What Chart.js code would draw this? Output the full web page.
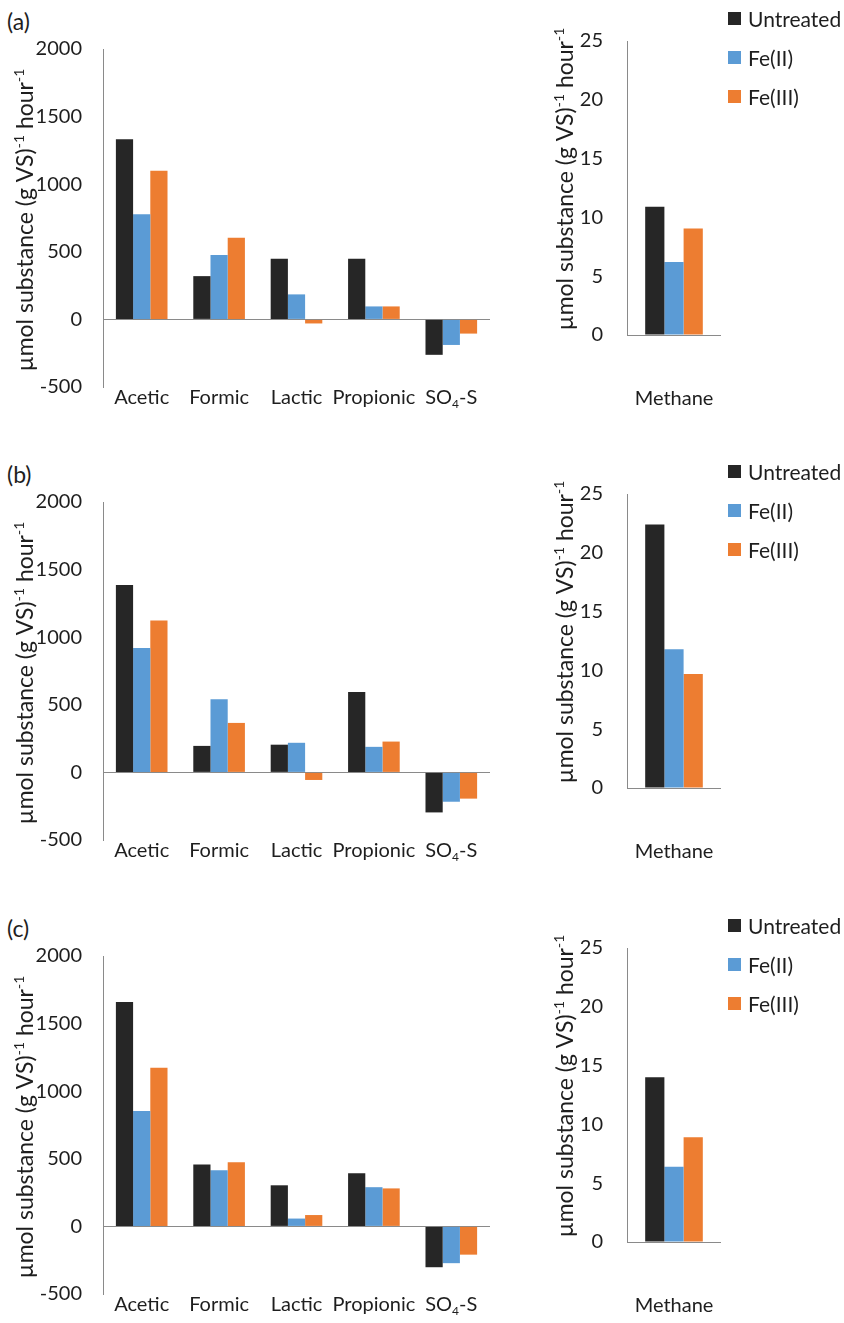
<!DOCTYPE html>
<html>
<head>
<meta charset="utf-8">
<script src="https://cdn.jsdelivr.net/npm/chart.js@4.4.1/dist/chart.umd.min.js"></script>
<style>
  body { margin: 0; background: #fff; overflow: hidden; }
  #page { position: relative; width: 844px; height: 1323px; font-family: Lato, "Open Sans", sans-serif; color: #1e1e1e; }
  canvas { position: absolute; }
  .tag { position: absolute; left: 7px; font-size: 23px; line-height: 26px; }
  .legend { position: absolute; left: 728px; list-style: none; margin: 0; padding: 0; }
  .legend li { display: flex; align-items: center; height: 39px; font-size: 21px; }
  .legend .box { width: 13px; height: 13px; margin-right: 7px; }
</style>
</head>
<body>
<div id="page"></div>
<script>
const FONT = 'Lato, "Open Sans", sans-serif';
const TEXT = '#1e1e1e';
const AXIS = '#8a8a8a';

const categories = ['Acetic', 'Formic', 'Lactic', 'Propionic', 'SO_{4}-S'];
const methaneLabel = ['Methane'];
const seriesNames = ['Untreated', 'Fe(II)', 'Fe(III)'];
const seriesColors = ['#262626', '#5b9bd5', '#ed7d31'];
const panelTags = ['(a)', '(b)', '(c)'];
const yTitle = 'µmol substance (g VS)^{-1} hour^{-1}';
const acidTicks = [-500, 0, 500, 1000, 1500, 2000];
const methaneTicks = [0, 5, 10, 15, 20, 25];

// (a)
const untreatedA = [1333, 320, 449, 449, -262];
const fe2A = [777, 477, 185, 96, -189];
const fe3A = [1100, 604, -30, 96, -105];
const methaneA = [10.9, 6.2, 9.05];
// (b)
const untreatedB = [1387, 196, 205, 594, -296];
const fe2B = [920, 541, 219, 189, -217];
const fe3B = [1123, 366, -56, 228, -194];
const methaneB = [22.4, 11.8, 9.7];
// (c)
const untreatedC = [1660, 458, 304, 393, -302];
const fe2C = [853, 416, 58, 290, -272];
const fe3C = [1174, 474, 84, 281, -209];
const methaneC = [14.0, 6.4, 8.9];

const panelOffsets = [0, 453, 907];

// split "a_{4}b^{-1}" into normal / sub / sup pieces
function parseRich(str) {
  const parts = [];
  const re = /([_^])\{([^}]*)\}/g;
  let last = 0, m;
  while ((m = re.exec(str))) {
    if (m.index > last) parts.push({ t: str.slice(last, m.index), k: 'n' });
    parts.push({ t: m[2], k: m[1] === '_' ? 'sub' : 'sup' });
    last = re.lastIndex;
  }
  if (last < str.length) parts.push({ t: str.slice(last), k: 'n' });
  return parts;
}

function drawRich(ctx, str, x, y, size) {
  const parts = parseRich(str);
  const small = Math.round(size * 0.62);
  const fontFor = k => (k === 'n' ? size : small) + 'px ' + FONT;
  let total = 0;
  parts.forEach(p => { ctx.font = fontFor(p.k); p.w = ctx.measureText(p.t).width; total += p.w; });
  let cx = x - total / 2;
  ctx.textAlign = 'left';
  ctx.textBaseline = 'alphabetic';
  parts.forEach(p => {
    ctx.font = fontFor(p.k);
    const dy = p.k === 'sup' ? -size * 0.4 : p.k === 'sub' ? size * 0.22 : 0;
    ctx.fillText(p.t, cx, y + dy);
    cx += p.w;
  });
}

// category labels sit inside the plot near the bottom, plus the rotated axis title
const richText = {
  id: 'richText',
  afterDraw(chart, args, opts) {
    const { ctx } = chart;
    const x = chart.scales.x;
    ctx.save();
    ctx.fillStyle = TEXT;
    chart.data.labels.forEach((lab, i) => {
      drawRich(ctx, lab, x.getPixelForValue(i), opts.labelY, opts.size);
    });
    ctx.translate(opts.titleX, opts.titleY);
    ctx.rotate(-Math.PI / 2);
    drawRich(ctx, yTitle, 0, 0, opts.titleSize);
    ctx.restore();
  }
};

function makeChart(canvas, labels, series, ticks, g) {
  return new Chart(canvas, {
    type: 'bar',
    data: {
      labels: labels,
      datasets: series.map((d, i) => ({
        label: seriesNames[i],
        data: d,
        backgroundColor: seriesColors[i],
        borderWidth: 0,
        categoryPercentage: g.catPct,
        barPercentage: 1,
      })),
    },
    options: {
      responsive: false,
      animation: false,
      layout: { padding: { top: g.padTop, bottom: g.padBottom, left: 0, right: g.padRight } },
      scales: {
        x: { display: false },
        y: {
          min: ticks[0],
          max: ticks[ticks.length - 1],
          ticks: {
            stepSize: ticks[1] - ticks[0],
            font: { family: FONT, size: 20 },
            color: TEXT,
            padding: g.tickPad,
            callback: (v) => String(v),
          },
          grid: {
            drawTicks: false,
            color: (c) => (c.tick && c.tick.value === 0 ? AXIS : 'rgba(0,0,0,0)'),
          },
          border: { display: true, color: AXIS },
          afterFit: (s) => { s.width = g.axisW; },
        },
      },
      plugins: {
        legend: { display: false },
        tooltip: { enabled: false },
        richText: { labelY: g.labelY, size: 20, titleX: 33, titleY: g.titleY, titleSize: 23 },
      },
    },
    plugins: [richText],
  });
}

const leftGeom = { axisW: 103, padRight: 50, padTop: 49, padBottom: 14, tickPad: 21, catPct: 0.667, labelY: 404, titleY: 220 };
const rightGeom = { axisW: 87, padRight: 123, padTop: 41, padBottom: 85, tickPad: 24, catPct: 0.613, labelY: 405, titleY: 179 };

const page = document.getElementById('page');
const acidData = [[untreatedA, fe2A, fe3A], [untreatedB, fe2B, fe3B], [untreatedC, fe2C, fe3C]];
const methaneData = [methaneA, methaneB, methaneC];

function addCanvas(left, top, w, h) {
  const c = document.createElement('canvas');
  c.width = w; c.height = h;
  c.style.left = left + 'px'; c.style.top = top + 'px';
  page.appendChild(c);
  return c;
}

panelOffsets.forEach((dy, p) => {
  const tag = document.createElement('div');
  tag.className = 'tag';
  tag.style.top = (dy + 8) + 'px';
  tag.textContent = panelTags[p];
  page.appendChild(tag);

  makeChart(addCanvas(0, dy, 540, 420), categories, acidData[p], acidTicks, leftGeom);
  // methane chart: one category, one value per series
  const m = methaneData[p].map(v => [v]);
  const right = makeChart(addCanvas(540, dy, 304, 420), methaneLabel, m, methaneTicks, rightGeom);

  // html legend from the built-in generator
  const ul = document.createElement('ul');
  ul.className = 'legend';
  ul.style.top = (dy - 1) + 'px';
  right.options.plugins.legend.labels.generateLabels(right).forEach(item => {
    const li = document.createElement('li');
    const box = document.createElement('span');
    box.className = 'box';
    box.style.background = item.fillStyle;
    li.appendChild(box);
    li.appendChild(document.createTextNode(item.text));
    ul.appendChild(li);
  });
  page.appendChild(ul);
});
</script>
</body>
</html>
